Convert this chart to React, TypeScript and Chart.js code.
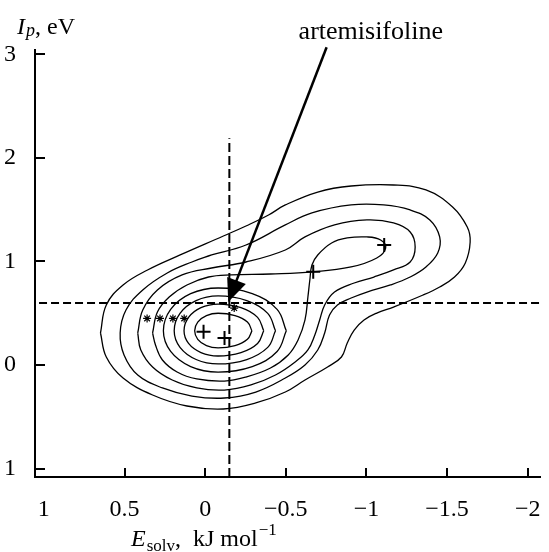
import React, { useEffect, useRef } from "react";
import { Chart, registerables } from "chart.js";

Chart.register(...registerables);

// ---- axes ----
const xTicks = [1, 0.5, 0, -0.5, -1, -1.5, -2];
const xTickLabels = ["1", "0.5", "0", "\u22120.5", "\u22121", "\u22121.5", "\u22122"];
const yTicks = [-1, 0, 1, 2, 3];
const yTickLabels = ["1", "0", "1", "2", "3"];
const xRange = [-2.076, 1.055];
const yRange = [-1.082, 3.043];

// ---- contour lines (x = E_solv, y = I_p) ----
const contourL1 = [
  [-0.29, 0.33], [-0.262, 0.415], [-0.185, 0.477], [-0.08, 0.5], [-0.008, 0.477], [0.046, 0.415],
  [0.065, 0.33], [0.046, 0.248], [-0.008, 0.187], [-0.08, 0.165], [-0.185, 0.187], [-0.262, 0.248], [-0.29, 0.33],
];
const contourL2 = [
  [-0.363, 0.33], [-0.325, 0.46], [-0.222, 0.554], [-0.08, 0.589], [0.026, 0.554], [0.103, 0.46],
  [0.131, 0.33], [0.103, 0.208], [0.026, 0.12], [-0.08, 0.087], [-0.222, 0.12], [-0.325, 0.208], [-0.363, 0.33],
];
const contourL3 = [
  [-0.436, 0.33], [-0.388, 0.499], [-0.258, 0.622], [-0.08, 0.667], [0.056, 0.622], [0.156, 0.499],
  [0.192, 0.33], [0.156, 0.17], [0.056, 0.053], [-0.08, 0.01], [-0.258, 0.053], [-0.388, 0.17], [-0.436, 0.33],
];
const contourL4 = [
  [-0.503, 0.33], [-0.446, 0.537], [-0.292, 0.689], [-0.08, 0.744], [0.09, 0.689], [0.214, 0.537],
  [0.259, 0.33], [0.214, 0.131], [0.09, -0.015], [-0.08, -0.068], [-0.292, -0.015], [-0.446, 0.131], [-0.503, 0.33],
];
const contourD = [
  [0.326, 0.309], [0.296, 0.512], [0.223, 0.657], [0.113, 0.773], [-0.021, 0.85], [-0.162, 0.87],
  [-0.405, 0.879], [-0.668, 0.899], [-0.905, 0.947], [-1.064, 1.034], [-1.119, 1.13], [-1.088, 1.208],
  [-1.003, 1.237], [-0.881, 1.227], [-0.784, 1.179], [-0.698, 1.063], [-0.662, 0.966], [-0.649, 0.821],
  [-0.637, 0.657], [-0.619, 0.435], [-0.576, 0.242], [-0.515, 0.097], [-0.405, -0.029], [-0.253, -0.116],
  [-0.119, -0.155], [0.052, -0.135], [0.174, -0.068], [0.265, 0.048], [0.308, 0.193], [0.326, 0.309],
];
const contourC = [
  [0.418, 0.309], [0.387, 0.531], [0.296, 0.725], [0.143, 0.87], [-0.04, 0.937], [-0.253, 0.995],
  [-0.497, 1.111], [-0.619, 1.237], [-0.802, 1.353], [-1.003, 1.401], [-1.168, 1.372], [-1.271, 1.285],
  [-1.302, 1.14], [-1.271, 0.995], [-1.168, 0.918], [-1.046, 0.85], [-0.924, 0.792], [-0.802, 0.705],
  [-0.741, 0.58], [-0.71, 0.435], [-0.68, 0.29], [-0.637, 0.145], [-0.558, 0.029], [-0.436, -0.097],
  [-0.284, -0.193], [-0.119, -0.242], [0.052, -0.222], [0.204, -0.145], [0.326, -0.019], [0.399, 0.145], [0.418, 0.309],
];
const contourB = [
  [-0.04, 1.063], [-0.253, 1.159], [-0.497, 1.353], [-0.662, 1.469], [-0.905, 1.546], [-1.107, 1.546],
  [-1.271, 1.498], [-1.393, 1.401], [-1.454, 1.237], [-1.442, 1.082], [-1.369, 0.947], [-1.271, 0.85],
  [-1.149, 0.773], [-1.003, 0.705], [-0.905, 0.647], [-0.82, 0.58], [-0.771, 0.483], [-0.741, 0.309],
  [-0.698, 0.145], [-0.619, 0.0], [-0.497, -0.126], [-0.314, -0.261], [-0.119, -0.319], [0.082, -0.3],
  [0.265, -0.222], [0.418, -0.097], [0.503, 0.097], [0.527, 0.309], [0.491, 0.531], [0.387, 0.725],
  [0.235, 0.889], [0.082, 0.995], [-0.04, 1.063],
];
const contourA = [
  [0.649, 0.309], [0.613, 0.58], [0.509, 0.773], [0.357, 0.918], [0.155, 1.063], [-0.113, 1.246],
  [-0.253, 1.343], [-0.393, 1.449], [-0.497, 1.546], [-0.698, 1.671], [-0.905, 1.729], [-1.168, 1.739],
  [-1.369, 1.691], [-1.534, 1.527], [-1.625, 1.333], [-1.643, 1.188], [-1.613, 0.986], [-1.546, 0.85],
  [-1.454, 0.754], [-1.351, 0.676], [-1.168, 0.56], [-1.064, 0.502], [-0.985, 0.435], [-0.924, 0.338],
  [-0.881, 0.213], [-0.845, 0.077], [-0.759, -0.019], [-0.619, -0.145], [-0.497, -0.261], [-0.314, -0.367],
  [-0.113, -0.425], [0.113, -0.396], [0.326, -0.29], [0.509, -0.126], [0.613, 0.077], [0.649, 0.309],
];
const contours = [contourL1, contourL2, contourL3, contourL4, contourD, contourC, contourB, contourA];

// ---- markers ----
const plusMarkers = [[0.01, 0.32], [-0.12, 0.26], [-0.67, 0.9], [-1.11, 1.16]];
const starMarkers = [[0.36, 0.45], [0.28, 0.45], [0.2, 0.45], [0.13, 0.45], [-0.18, 0.55]];

// ---- reference lines ----
const vLineX = -0.15;
const vLineYs = [-1.082, 2.19];
const hLineY = 0.6;
const hLineXs = [1.03, -2.076];

// ---- annotation ----
const arrowFrom = [-0.753, 3.07];
const arrowTo = [-0.143, 0.609];
const arrowLabel = "artemisifoline";
const arrowLabelAt = [-1.027, 3.15];

const SERIF = "'Liberation Serif', 'Times New Roman', serif";

const toPts = (arr: number[][]) => arr.map(([x, y]) => ({ x, y }));

const decorPlugin = {
  id: "decor",
  afterDraw(chart: any) {
    const { ctx, chartArea } = chart;
    const xs = chart.scales.x;
    const ys = chart.scales.y;
    ctx.save();
    ctx.strokeStyle = "#000";
    ctx.fillStyle = "#000";
    // inward ticks
    ctx.lineWidth = 2;
    ctx.beginPath();
    xTicks.forEach((v) => {
      if (v === 1) return;
      const px = Math.round(xs.getPixelForValue(v));
      ctx.moveTo(px, chartArea.bottom);
      ctx.lineTo(px, chartArea.bottom - 9);
    });
    yTicks.forEach((v) => {
      const py = Math.round(ys.getPixelForValue(v));
      ctx.moveTo(chartArea.left, py);
      ctx.lineTo(chartArea.left + 10, py);
    });
    ctx.stroke();

    // arrow
    const x1 = xs.getPixelForValue(arrowFrom[0]);
    const y1 = ys.getPixelForValue(arrowFrom[1]);
    const x2 = xs.getPixelForValue(arrowTo[0]);
    const y2 = ys.getPixelForValue(arrowTo[1]);
    const len = Math.hypot(x2 - x1, y2 - y1);
    const ux = (x2 - x1) / len;
    const uy = (y2 - y1) / len;
    const headL = 23;
    const headW = 10;
    const bx = x2 - ux * headL;
    const by = y2 - uy * headL;
    ctx.lineWidth = 2.5;
    ctx.beginPath();
    ctx.moveTo(x1, y1);
    ctx.lineTo(bx + ux * 2, by + uy * 2);
    ctx.stroke();
    ctx.beginPath();
    ctx.moveTo(x2, y2);
    ctx.lineTo(bx - uy * headW, by + ux * headW);
    ctx.lineTo(bx + uy * headW, by - ux * headW);
    ctx.closePath();
    ctx.fill();

    // label
    ctx.font = `26px ${SERIF}`;
    ctx.textAlign = "center";
    ctx.textBaseline = "alphabetic";
    ctx.fillText(arrowLabel, xs.getPixelForValue(arrowLabelAt[0]), ys.getPixelForValue(arrowLabelAt[1]));

    // y axis title: I_p, eV
    ctx.textAlign = "left";
    let tx = chartArea.left - 18;
    const tyBase = 34;
    ctx.font = `italic 24px ${SERIF}`;
    ctx.fillText("I", tx, tyBase);
    tx += ctx.measureText("I").width + 1;
    ctx.font = `italic 18px ${SERIF}`;
    ctx.fillText("p", tx, tyBase + 2);
    tx += ctx.measureText("p").width;
    ctx.font = `24px ${SERIF}`;
    ctx.fillText(", eV", tx, tyBase);

    // x axis title: E_solv, kJ mol^-1
    let ex = 131;
    const eBase = 546;
    ctx.font = `italic 24px ${SERIF}`;
    ctx.fillText("E", ex, eBase);
    ex += ctx.measureText("E").width + 1;
    ctx.font = `17px ${SERIF}`;
    ctx.fillText("solv", ex, eBase + 5);
    ex += ctx.measureText("solv").width;
    ctx.font = `24px ${SERIF}`;
    ctx.fillText(",  kJ mol", ex, eBase);
    ex += ctx.measureText(",  kJ mol").width + 1;
    ctx.font = `17px ${SERIF}`;
    ctx.fillText("\u22121", ex, eBase - 11);
    ctx.restore();
  },
};

export default function App() {
  const canvasRef = useRef<HTMLCanvasElement | null>(null);

  useEffect(() => {
    document.body.style.margin = "0";
    document.body.style.overflow = "hidden";
    const canvas = canvasRef.current;
    if (!canvas) return;

    const lineDs = (pts: number[][]) => ({
      data: toPts(pts),
      showLine: true,
      borderColor: "#000",
      borderWidth: 1.3,
      pointRadius: 0,
      tension: 0.4,
      fill: false,
    });

    const datasets: any[] = contours.map(lineDs);
    datasets.push({
      data: [{ x: vLineX, y: vLineYs[0] }, { x: vLineX, y: vLineYs[1] }],
      showLine: true,
      borderColor: "#000",
      borderWidth: 2,
      borderDash: [9, 4],
      pointRadius: 0,
      tension: 0,
    });
    datasets.push({
      data: [{ x: hLineXs[0], y: hLineY }, { x: hLineXs[1], y: hLineY }],
      showLine: true,
      borderColor: "#000",
      borderWidth: 2,
      borderDash: [8, 4],
      pointRadius: 0,
      tension: 0,
    });
    datasets.push({
      data: toPts(plusMarkers),
      showLine: false,
      pointStyle: "cross",
      pointRadius: 7,
      borderColor: "#000",
      borderWidth: 2,
    });
    datasets.push({
      data: toPts(starMarkers),
      showLine: false,
      pointStyle: "star",
      pointRadius: 4,
      borderColor: "#000",
      borderWidth: 1.2,
    });

    const chart = new Chart(canvas, {
      type: "scatter",
      data: { datasets },
      options: {
        animation: false,
        responsive: false,
        layout: { padding: { top: 50, right: 0, left: 0, bottom: 0 } },
        plugins: { legend: { display: false }, tooltip: { enabled: false } },
        scales: {
          x: {
            type: "linear",
            reverse: true,
            min: xRange[0],
            max: xRange[1],
            afterBuildTicks: (s: any) => {
              s.ticks = xTicks.map((v) => ({ value: v }));
            },
            ticks: {
              autoSkip: false,
              maxRotation: 0,
              padding: 10,
              color: "#000",
              font: { family: SERIF, size: 24 },
              callback: (v: any) => xTickLabels[xTicks.indexOf(Number(v))] ?? "",
            },
            grid: { display: false },
            border: { display: true, color: "#000", width: 2 },
            afterFit: (s: any) => {
              s.height = 75;
              s.paddingLeft = 0;
              s.paddingRight = 0;
            },
          },
          y: {
            type: "linear",
            min: yRange[0],
            max: yRange[1],
            afterBuildTicks: (s: any) => {
              s.ticks = yTicks.map((v) => ({ value: v }));
            },
            ticks: {
              autoSkip: false,
              padding: 11,
              color: "#000",
              font: { family: SERIF, size: 24 },
              callback: (v: any) => yTickLabels[yTicks.indexOf(Number(v))] ?? "",
            },
            grid: { display: false },
            border: { display: true, color: "#000", width: 2 },
            afterFit: (s: any) => {
              s.width = 35;
              s.paddingTop = 0;
              s.paddingBottom = 0;
            },
          },
        },
      },
      plugins: [decorPlugin],
    });
    return () => chart.destroy();
  }, []);

  return (
    <div style={{ width: 549, height: 552, background: "#fff" }}>
      <canvas ref={canvasRef} width={549} height={552} style={{ display: "block" }} />
    </div>
  );
}
